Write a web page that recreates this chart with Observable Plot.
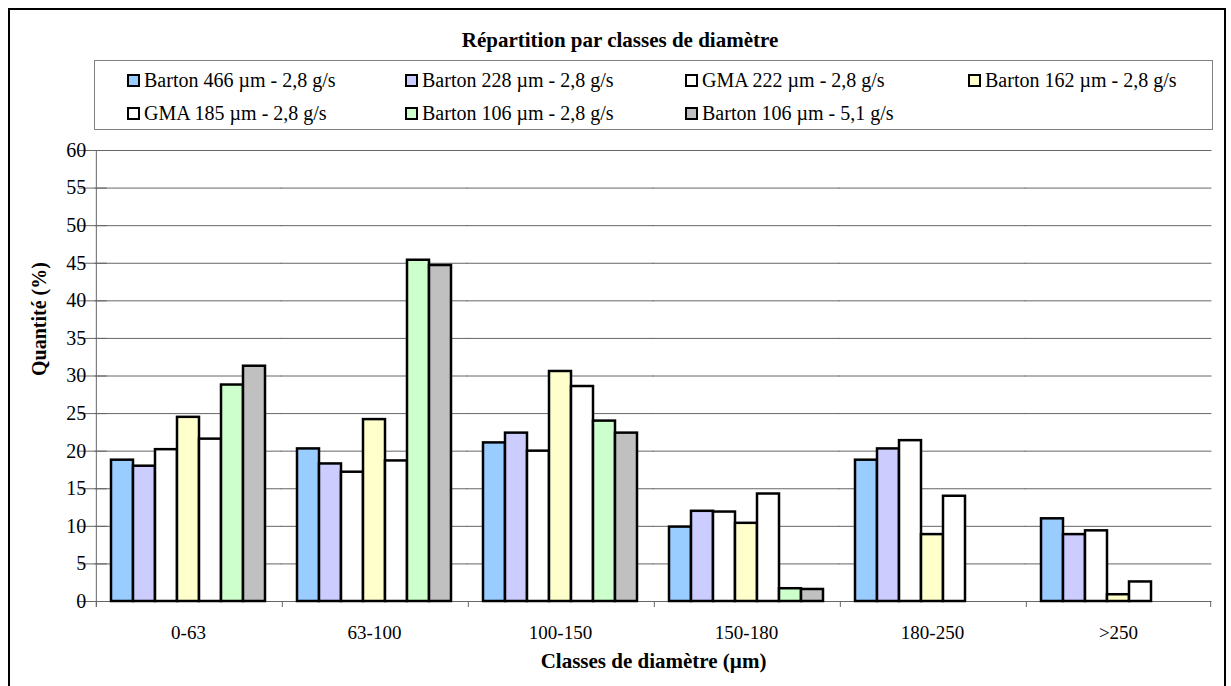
<!DOCTYPE html>
<html>
<head>
<meta charset="utf-8">
<script src="https://cdn.jsdelivr.net/npm/d3@7"></script>
<script src="https://cdn.jsdelivr.net/npm/@observablehq/plot@0.6"></script>
<style>
  html, body { margin: 0; padding: 0; background: #fff; }
  body { width: 1231px; height: 686px; overflow: hidden; font-family: "Liberation Serif", "Times New Roman", Times, "DejaVu Serif", serif; }
  #wrap { position: relative; width: 1231px; height: 686px; }
  #frame { position: absolute; left: 8px; top: 8px; width: 1218px; height: 700px; border: 2px solid #000; box-sizing: border-box; }
  #title { position: absolute; left: 0; width: 1240px; top: 27px; text-align: center; font-weight: bold; font-size: 21px; line-height: 26px; color: #000; }
  #legend { position: absolute; left: 94px; top: 60px; width: 1119px; height: 70px; border: 1px solid #808080; box-sizing: border-box; }
  .item { position: absolute; font-size: 20px; line-height: 24px; color: #000; white-space: nowrap; display: flex; align-items: center; }
  .sw { width: 9px; height: 9px; border: 2px solid #000; margin-right: 4px; }
  #chart { position: absolute; left: 0; top: 140px; }
  #xtitle { position: absolute; left: 93px; width: 1121px; top: 648px; text-align: center; font-weight: bold; font-size: 21px; line-height: 26px; color: #000; }
</style>
</head>
<body>
<div id="wrap">
  <div id="frame"></div>
  <div id="title">Répartition par classes de diamètre</div>
  <div id="legend"></div>
  <div id="chart"></div>
  <div id="xtitle">Classes de diamètre (µm)</div>
</div>
<script>
// ---- data ----
const classes = ["0-63", "63-100", "100-150", "150-180", "180-250", ">250"];
const series = [
  "Barton 466 µm - 2,8 g/s",
  "Barton 228 µm - 2,8 g/s",
  "GMA 222 µm - 2,8 g/s",
  "Barton 162 µm - 2,8 g/s",
  "GMA 185 µm - 2,8 g/s",
  "Barton 106 µm - 2,8 g/s",
  "Barton 106 µm - 5,1 g/s"
];
const colors = ["#99CCFF", "#CCCCFF", "#FFFFFF", "#FFFFCC", "#FFFFFF", "#CCFFCC", "#C0C0C0"];
const barton466 = [18.8, 20.3, 21.1, 9.9, 18.8, 11.0];
const barton228 = [18.0, 18.3, 22.4, 12.0, 20.3, 8.9];
const gma222    = [20.2, 17.2, 20.0, 11.9, 21.4, 9.4];
const barton162 = [24.5, 24.2, 30.6, 10.4, 8.9, 0.9];
const gma185    = [21.6, 18.7, 28.6, 14.3, 14.0, 2.6];
const barton106a = [28.8, 45.4, 24.0, 1.7, null, null];
const barton106b = [31.3, 44.7, 22.4, 1.6, null, null];
const yTicks = [0, 5, 10, 15, 20, 25, 30, 35, 40, 45, 50, 55, 60];

const valueLists = [barton466, barton228, gma222, barton162, gma185, barton106a, barton106b];
const data = [];
valueLists.forEach((vals, si) => {
  vals.forEach((v, ci) => {
    if (v != null) data.push({cls: classes[ci], series: series[si], value: v});
  });
});

// ---- legend (HTML) ----
const legendPos = [[32, 7], [310, 7], [590, 7], [873, 7], [32, 40], [310, 40], [590, 40]];
const legend = document.getElementById("legend");
series.forEach((s, i) => {
  const it = document.createElement("div");
  it.className = "item";
  it.style.left = legendPos[i][0] + "px";
  it.style.top = legendPos[i][1] + "px";
  const sw = document.createElement("span");
  sw.className = "sw";
  sw.style.background = colors[i];
  it.appendChild(sw);
  it.appendChild(document.createTextNode(s));
  legend.appendChild(it);
});

// ---- chart ----
const W = 1231, H = 546, ML = 93, MR = 17, MT = 10, MB = 85;
const pIn = 0.16, pOut = 0.08;
const step = (W - ML - MR) / (classes.length - pIn + 2 * pOut);
const gap = step * pIn / 2;
const subBand = step * (1 - pIn) / series.length;
const edgeOffset = subBand / 2 + gap;
const first = classes[0], last = classes[classes.length - 1];
const serif = "'Liberation Serif', 'Times New Roman', Times, 'DejaVu Serif', serif";

const chart = Plot.plot({
  width: W, height: H,
  marginLeft: ML, marginRight: MR, marginTop: MT, marginBottom: MB,
  style: {fontFamily: serif, fontSize: "20px", color: "#000", background: "transparent", overflow: "visible"},
  fx: {domain: classes, paddingInner: pIn, paddingOuter: pOut, label: null},
  x: {domain: series, padding: 0, axis: null},
  y: {domain: [0, 60], axis: null},
  color: {domain: series, range: colors},
  marks: [
    Plot.ruleY(yTicks, {insetLeft: -gap - 0.5, insetRight: -gap - 0.5, stroke: "#666666", strokeWidth: 1}),
    // y axis line in the first facet
    Plot.ruleX([0], {fx: () => first, x: () => series[0], y1: -0.8, y2: 60, dx: -edgeOffset, stroke: "#666666"}),
    // category boundary ticks
    Plot.ruleX(classes, {fx: d => d, x: () => series[0], y1: 0, y2: -0.8, dx: -edgeOffset, stroke: "#666666"}),
    Plot.ruleX([last], {fx: d => d, x: () => series[series.length - 1], y1: 0, y2: -0.8, dx: edgeOffset, stroke: "#666666"}),
    // bars
    Plot.barY(data, {fx: "cls", x: "series", y: "value", fill: "series", stroke: "#000", strokeWidth: 2.5}),
    // y ticks and labels
    Plot.ruleY(yTicks, {fx: () => first, x1: () => series[0], x2: () => series[0], dx: -edgeOffset, insetLeft: -6, stroke: "#666666"}),
    Plot.text(yTicks, {fx: () => first, y: d => d, x: () => series[0], dx: -edgeOffset - 10, textAnchor: "end", fontSize: 20, text: d => String(d)}),
    Plot.axisFx({anchor: "bottom", tickSize: 0, tickPadding: 24, fontSize: 19, label: null}),
    Plot.text(["Quantité (%)"], {fx: () => first, frameAnchor: "left", dx: -edgeOffset + subBand / 2 - 56, rotate: -90, fontWeight: "bold", fontSize: 20})
  ]
});
document.getElementById("chart").appendChild(chart);
</script>
</body>
</html>
